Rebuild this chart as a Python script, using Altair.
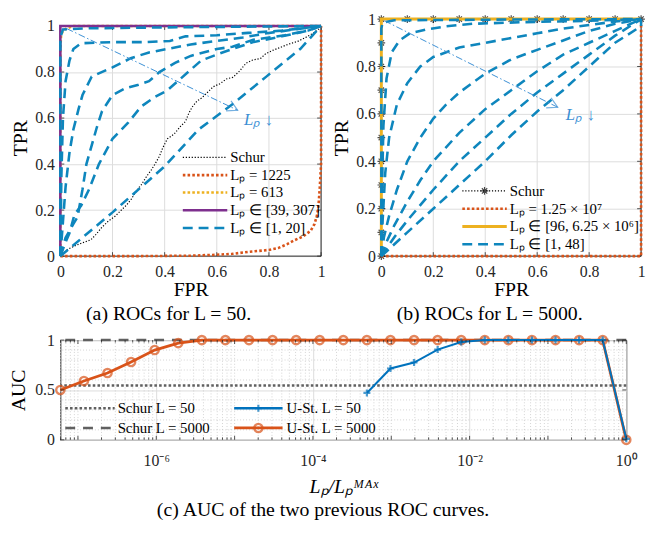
import altair as alt
import pandas as pd

FONT = "Liberation Serif"
INK = "#262626"
BLUE_ROC = "#0e86bd"
MBLUE = "#0072BD"
MORANGE = "#D95319"
MYELLOW = "#EDB120"
MPURPLE = "#7E2F8E"
ARROW = "#3b8fd4"
GRID = "#dcdcdc"
MINOR = "#c8c8c8"
SCHUR_GRAY = "#606060"

# ---------------- panel (a): L = 50 ----------------
a_schur_fpr = [0, 0.029, 0.054, 0.085, 0.117, 0.135, 0.160, 0.185, 0.211, 0.229, 0.254, 0.273, 0.292,
               0.311, 0.330, 0.348, 0.363, 0.380, 0.392, 0.404, 0.411, 0.436, 0.461, 0.480, 0.492,
               0.505, 0.524, 0.543, 0.561, 0.586, 0.612, 0.637, 0.662, 0.687, 0.712, 0.737, 0.768,
               0.787, 0.812, 0.837, 0.875, 0.912, 0.937, 0.969, 0.987, 1.0, 1.0]
a_schur_tpr = [0, 0.030, 0.044, 0.058, 0.071, 0.092, 0.126, 0.153, 0.174, 0.195, 0.222, 0.249, 0.284,
               0.311, 0.345, 0.373, 0.400, 0.434, 0.468, 0.496, 0.510, 0.530, 0.564, 0.585, 0.619,
               0.647, 0.674, 0.688, 0.708, 0.736, 0.749, 0.770, 0.777, 0.804, 0.838, 0.852, 0.859,
               0.879, 0.893, 0.904, 0.921, 0.934, 0.948, 0.968, 0.982, 0.996, 1.0]
a_1225_fpr = [0, 0.3, 0.5, 0.6, 0.66, 0.72, 0.8, 0.835, 0.87, 0.90, 0.93, 0.96, 0.975, 0.985, 0.99, 0.995, 1.0, 1.0]
a_1225_tpr = [0, 0.0, 0.002, 0.006, 0.01, 0.018, 0.027, 0.035, 0.052, 0.07, 0.085, 0.11, 0.14, 0.18, 0.22, 0.3, 0.4, 1.0]
a_613_fpr = [0, 0, 0.003, 0.01, 0.025, 0.05, 1.0]
a_613_tpr = [0, 0.9, 0.96, 0.98, 0.99, 1.0, 1.0]
a_mid_fpr = [0, 0, 1]
a_mid_tpr = [0, 1, 1]
a_low = [
    ([0, 0, 0.01, 0.1, 0.5, 1.0], [0, 0.95, 0.985, 0.99, 0.995, 1.0]),
    ([0, 0.004, 0.01, 0.02, 0.035, 0.05, 0.08, 0.2, 0.33, 0.42, 0.48, 0.6, 0.72, 0.85, 1.0],
     [0, 0.35, 0.6, 0.76, 0.85, 0.9, 0.925, 0.93, 0.93, 0.935, 0.955, 0.96, 0.97, 0.98, 1.0]),
    ([0, 0.01, 0.02, 0.035, 0.05, 0.07, 0.085, 0.12, 0.2, 0.27, 0.34, 0.41, 0.5, 0.6, 0.7, 0.8, 0.9, 1.0],
     [0, 0.15, 0.3, 0.45, 0.55, 0.64, 0.70, 0.78, 0.82, 0.86, 0.885, 0.9, 0.92, 0.935, 0.95, 0.97, 0.985, 1.0]),
    ([0, 0.02, 0.05, 0.066, 0.085, 0.1, 0.12, 0.14, 0.16, 0.2, 0.25, 0.3, 0.34, 0.38, 0.44, 0.5, 0.6, 0.66, 0.74, 0.86, 0.95, 1.0],
     [0, 0.08, 0.14, 0.17, 0.29, 0.4, 0.48, 0.56, 0.63, 0.7, 0.73, 0.745, 0.76, 0.8, 0.84, 0.87, 0.9, 0.91, 0.94, 0.96, 0.98, 1.0]),
    ([0, 0.02, 0.035, 0.054, 0.08, 0.11, 0.148, 0.2, 0.26, 0.31, 0.36, 0.41, 0.49, 0.54, 0.61, 0.66, 0.74, 0.85, 0.95, 1.0],
     [0, 0.06, 0.1, 0.18, 0.22, 0.29, 0.4, 0.51, 0.58, 0.65, 0.69, 0.72, 0.8, 0.85, 0.88, 0.9, 0.93, 0.955, 0.98, 1.0]),
    ([0, 0.2, 0.4, 0.53, 0.66, 0.79, 0.92, 1.0], [0, 0.19, 0.39, 0.55, 0.66, 0.78, 0.9, 1.0]),
]
a_arrow_fpr = [0.024, 0.68]
a_arrow_tpr = [0.989, 0.634]
a_note_fpr = [0.76]
a_note_tpr = [0.593]
a_legend = ["Schur", "Lₚ = 1225", "Lₚ = 613", "Lₚ ∈ [39, 307]", "Lₚ ∈ [1, 20]"]

# ---------------- panel (b): L = 5000 ----------------
b_schur_fpr = [0, 0, 0, 0, 0, 0, 0, 0, 0, 0, 0, 0.1, 0.2, 0.3, 0.4, 0.5, 0.6, 0.7, 0.8, 0.9, 1.0]
b_schur_tpr = [0, 0.1, 0.2, 0.3, 0.4, 0.5, 0.6, 0.7, 0.8, 0.9, 1, 1, 1, 1, 1, 1, 1, 1, 1, 1, 1]
b_max_fpr = [0, 1, 1]
b_max_tpr = [0, 0, 1]
b_mid_fpr = [0, 0, 1]
b_mid_tpr = [0, 1, 1]
b_low = [
    ([0, 0, 0.005, 0.05, 0.5, 1.0], [0, 0.96, 0.985, 0.995, 0.998, 1.0]),
    ([0, 0.003, 0.008, 0.02, 0.04, 0.07, 0.11, 0.17, 0.25, 0.35, 0.55, 0.8, 1.0],
     [0, 0.3, 0.55, 0.75, 0.86, 0.91, 0.94, 0.955, 0.97, 0.98, 0.987, 0.993, 1.0]),
    ([0, 0.005, 0.015, 0.03, 0.06, 0.1, 0.15, 0.2, 0.3, 0.4, 0.5, 0.6, 0.7, 0.8, 0.9, 1.0],
     [0, 0.15, 0.35, 0.5, 0.64, 0.73, 0.8, 0.84, 0.88, 0.9, 0.92, 0.94, 0.96, 0.975, 0.99, 1.0]),
    ([0, 0.01, 0.03, 0.06, 0.1, 0.15, 0.2, 0.25, 0.3, 0.4, 0.5, 0.6, 0.7, 0.8, 0.9, 1.0],
     [0, 0.08, 0.17, 0.28, 0.4, 0.5, 0.58, 0.64, 0.69, 0.77, 0.83, 0.87, 0.91, 0.95, 0.98, 1.0]),
    ([0, 0.02, 0.05, 0.1, 0.15, 0.2, 0.3, 0.4, 0.5, 0.6, 0.7, 0.8, 0.9, 1.0],
     [0, 0.06, 0.13, 0.23, 0.32, 0.4, 0.52, 0.62, 0.7, 0.78, 0.85, 0.9, 0.95, 1.0]),
    ([0, 0.05, 0.1, 0.2, 0.3, 0.4, 0.5, 0.6, 0.7, 0.8, 0.9, 1.0],
     [0, 0.08, 0.15, 0.28, 0.4, 0.5, 0.6, 0.69, 0.77, 0.85, 0.93, 1.0]),
    ([0, 0.1, 0.2, 0.3, 0.4, 0.5, 0.6, 0.7, 0.8, 0.9, 1.0, 1.0],
     [0, 0.1, 0.2, 0.3, 0.4, 0.51, 0.61, 0.7, 0.8, 0.9, 0.97, 1.0]),
]
b_arrow_fpr = [0.012, 0.679]
b_arrow_tpr = [0.993, 0.628]
b_note_fpr = [0.766]
b_note_tpr = [0.595]
b_legend = ["Schur", "Lₚ = 1.25 × 10⁷", "Lₚ ∈ [96, 6.25 × 10⁶]", "Lₚ ∈ [1, 48]"]

roc_ticks = [0, 0.2, 0.4, 0.6, 0.8, 1]

# ---------------- panel (c): AUC ----------------
exp_5000 = [-24, -23, -22, -21, -20, -19, -18, -17, -16, -15, -14, -13, -12, -11, -10, -9, -8, -7, -6, -5, -4, -3, -2, -1, 0]
auc_5000 = [0.50, 0.59, 0.67, 0.78, 0.90, 0.97, 1.0, 1.0, 1.0, 1.0, 1.0, 1.0, 1.0, 1.0, 1.0, 1.0, 1.0, 1.0, 1.0, 1.0, 1.0, 1.0, 1.0, 1.0, 0.0]
exp_50 = [-11, -10, -9, -8, -7, -6, -5, -4, -3, -2, -1, 0]
auc_50 = [0.47, 0.715, 0.775, 0.905, 0.98, 1.0, 1.0, 1.0, 1.0, 1.0, 1.0, 0.01]
schur_auc_50 = [0.545]
schur_auc_5000 = [1.0]
c_tick_exp = [-6, -4, -2, 0]
c_tick_text = ["10⁻⁶", "10⁻⁴", "10⁻²", "10⁰"]
c_decades = [-8, -7, -6, -5, -4, -3, -2, -1, 0]
c_mult = [1, 2, 3, 4, 5, 6, 7, 8, 9]
c_yticks = [0, 0.5, 1]
c_yminor = [0.1, 0.2, 0.3, 0.4, 0.6, 0.7, 0.8, 0.9]
c_legend_left = ["Schur L = 50", "Schur L = 5000"]
c_legend_right = ["U-St.  L = 50", "U-St.  L = 5000"]


# ---------------- helpers ----------------
def cdf(fpr, tpr, name="c"):
    return pd.DataFrame({"fpr": fpr, "tpr": tpr, "i": list(range(len(fpr))), "curve": name})


def roc_panel(W, H, ytop, layers_spec, arrow, note, legend_rows, caption):
    # value 1 of TPR sits `ytop` pixels below the top of the view
    xs = alt.Scale(domain=[0, 1], nice=False, zero=False)
    ys = alt.Scale(domain=[0, H / (H - ytop)], nice=False, zero=False)
    xax = alt.Axis(values=roc_ticks, format="~g", title="FPR", grid=False, ticks=False, domain=False,
                   labelFlush=False, labelPadding=8, titlePadding=0, labelFont=FONT, titleFont=FONT)
    yax = alt.Axis(values=roc_ticks, format="~g", title="TPR", grid=True, ticks=False, domain=False,
                   labelPadding=6, titlePadding=4, labelFont=FONT, titleFont=FONT)
    X = alt.X("fpr:Q", scale=xs, axis=xax)
    Y = alt.Y("tpr:Q", scale=ys, axis=yax)
    layers = []
    gdf = pd.DataFrame({"fpr": roc_ticks, "tpr": [0] * len(roc_ticks), "tpr2": [1] * len(roc_ticks)})
    layers.append(alt.Chart(gdf).mark_rule(color=GRID, strokeWidth=1)
                  .encode(x=X, y=Y, y2=alt.Y2("tpr2:Q")))
    bx = dict(color=INK, strokeWidth=1)
    one = pd.DataFrame({"t": [0]})
    layers.append(alt.Chart(one).mark_rule(**bx).encode(x=alt.value(0), x2=alt.value(W), y=alt.value(H)))
    layers.append(alt.Chart(one).mark_rule(**bx).encode(x=alt.value(0), x2=alt.value(W), y=alt.value(ytop)))
    layers.append(alt.Chart(one).mark_rule(**bx).encode(x=alt.value(0), y=alt.value(ytop), y2=alt.value(H)))
    layers.append(alt.Chart(one).mark_rule(**bx).encode(x=alt.value(W), y=alt.value(ytop), y2=alt.value(H)))
    tdf = pd.DataFrame({"fpr": roc_ticks, "tpr": roc_ticks})
    tk = dict(color=INK, strokeWidth=0.8)
    layers.append(alt.Chart(tdf).mark_rule(**tk).encode(x=X, y=alt.value(H), y2=alt.value(H - 4)))
    layers.append(alt.Chart(tdf).mark_rule(**tk).encode(x=X, y=alt.value(ytop), y2=alt.value(ytop + 4)))
    layers.append(alt.Chart(tdf).mark_rule(**tk).encode(y=Y, x=alt.value(0), x2=alt.value(4)))
    layers.append(alt.Chart(tdf).mark_rule(**tk).encode(y=Y, x=alt.value(W), x2=alt.value(W - 4)))
    for df, style in layers_spec:
        mk = dict(color=style["color"], strokeWidth=style["width"])
        if "dash" in style:
            mk["strokeDash"] = style["dash"]
        layers.append(alt.Chart(df).mark_line(**mk).encode(x=X, y=Y, order="i:Q", detail="curve:N"))
        if "marker" in style:
            layers.append(alt.Chart(df).mark_point(shape=style["marker"], filled=False, size=60,
                                                   color="black", strokeWidth=1.2).encode(x=X, y=Y))
    adf = cdf(arrow[0], arrow[1], "arrow")
    layers.append(alt.Chart(adf).mark_line(color=ARROW, strokeWidth=1, strokeDash=[7, 2.5, 1.5, 2.5])
                  .encode(x=X, y=Y, order="i:Q"))
    layers.append(alt.Chart(adf.iloc[[1]]).mark_point(shape="M-1,-0.55L0,0L-1,0.55", filled=False, size=420,
                                                      color=ARROW, strokeWidth=1.2, angle=26)
                  .encode(x=X, y=Y))
    layers.append(alt.Chart(cdf(note[0], note[1])).mark_text(text="Lₚ ↓", font=FONT, fontSize=17,
                                                              fontStyle="italic", color=ARROW)
                  .encode(x=X, y=Y))
    for (label, style, yb, x0, x1, xt) in legend_rows:
        ypx = H - yb
        mk = dict(color=style["color"], strokeWidth=style["width"])
        if "dash" in style:
            mk["strokeDash"] = style["dash"]
        ldf = pd.DataFrame({"t": [label]})
        layers.append(alt.Chart(ldf).mark_rule(**mk).encode(x=alt.value(x0), x2=alt.value(x1), y=alt.value(ypx)))
        if "marker" in style:
            layers.append(alt.Chart(ldf).mark_point(shape=style["marker"], filled=False, size=60, color="black",
                                                    strokeWidth=1.2)
                          .encode(x=alt.value((x0 + x1) / 2), y=alt.value(ypx)))
        layers.append(alt.Chart(ldf).mark_text(align="left", baseline="middle", font=FONT, fontSize=15,
                                               color="black")
                      .encode(x=alt.value(xt), y=alt.value(ypx), text="t:N"))
    return alt.layer(*layers).properties(
        width=W, height=H, view=alt.ViewBackground(strokeOpacity=0),
        title=alt.TitleParams(text=caption, orient="bottom", anchor="middle", frame="bounds", font=FONT,
                              fontSize=20, fontWeight="normal", color="black", offset=5))


ASTER = "M0,-1L0,1M-1,0L1,0M-0.7,-0.7L0.7,0.7M-0.7,0.7L0.7,-0.7"
st_schur = {"color": "black", "width": 1.2, "dash": [1.2, 1.8]}
st_orange_dot = {"color": MORANGE, "width": 2.6, "dash": [2.6, 2.2]}
st_yellow_dot = {"color": MYELLOW, "width": 2.6, "dash": [2.6, 2.2]}
st_purple = {"color": MPURPLE, "width": 2.6}
st_yellow = {"color": MYELLOW, "width": 3}
st_blue_dash = {"color": BLUE_ROC, "width": 2.6, "dash": [10, 6]}
st_schur_b = dict(st_schur, marker=ASTER)

H_TOP = 240
WA = 264
spec_a = [
    (cdf(a_schur_fpr, a_schur_tpr), st_schur),
    (cdf(a_1225_fpr, a_1225_tpr), st_orange_dot),
    (cdf(a_613_fpr, a_613_tpr), st_yellow_dot),
    (cdf(a_mid_fpr, a_mid_tpr), st_purple),
    (pd.concat([cdf(f, t, f"c{k}") for k, (f, t) in enumerate(a_low)]), st_blue_dash),
]
rows_a = [100, 82, 64.5, 46.5, 28.5]   # legend rows, pixels above the bottom axis
legend_a = [(lab, st, y, 124, 169, 172) for lab, st, y in
            zip(a_legend, [st_schur, st_orange_dot, st_yellow_dot, st_purple, st_blue_dash], rows_a)]
panel_a = roc_panel(WA, H_TOP, 7, spec_a, (a_arrow_fpr, a_arrow_tpr), (a_note_fpr, a_note_tpr), legend_a,
                    "(a) ROCs for L = 50.")

WB = 263
spec_b = [
    (cdf(b_schur_fpr, b_schur_tpr), st_schur_b),
    (cdf(b_max_fpr, b_max_tpr), st_orange_dot),
    (cdf(b_mid_fpr, b_mid_tpr), st_yellow),
    (pd.concat([cdf(f, t, f"c{k}") for k, (f, t) in enumerate(b_low)]), st_blue_dash),
]
rows_b = [66, 48, 30, 12]
legend_b = [(lab, st, y, 82, 127, 130) for lab, st, y in
            zip(b_legend, [st_schur_b, st_orange_dot, st_yellow, st_blue_dash], rows_b)]
panel_b = roc_panel(WB, H_TOP, 0, spec_b, (b_arrow_fpr, b_arrow_tpr), (b_note_fpr, b_note_tpr), legend_b,
                    "(b) ROCs for L = 5000.")

# ---------------- panel (c) ----------------
WC, HC = 573, 101
label_expr = "''"
for e, t in zip(reversed(c_tick_exp), reversed(c_tick_text)):
    label_expr = f"round(log(datum.value)/LN10) == {e} ? '{t}' : ({label_expr})"
c_major = [10.0 ** e for e in c_tick_exp]
xmin = 2.0 ** exp_5000[0]
minor_vals = [m * 10.0 ** d for d in c_decades for m in c_mult]
minor_vals = [v for v in minor_vals if xmin <= v <= 1.0]
minor_grid = [v for v in minor_vals if all(abs(v - M) > 1e-12 * M for M in c_major)]
decade_vals = [10.0 ** d for d in c_decades if 10.0 ** d >= xmin]

cx = alt.X("r:Q", scale=alt.Scale(type="log", domain=[xmin, 1.0], nice=False),
           axis=alt.Axis(values=c_major, labelExpr=label_expr, title="Lₚ/Lₚᴹᴬˣ", titleFontStyle="italic",
                         grid=True, ticks=False, domain=False, labelFlush=False, labelPadding=13,
                         titlePadding=8, labelFont=FONT, titleFont=FONT))
cy = alt.Y("auc:Q", scale=alt.Scale(domain=[0, 1], nice=False, zero=False),
           axis=alt.Axis(values=c_yticks, format="~g", title="AUC", grid=True, ticks=False, domain=False,
                         labelPadding=6, titlePadding=6, labelFont=FONT, titleFont=FONT))

df5000 = pd.DataFrame({"r": [2.0 ** e for e in exp_5000], "auc": auc_5000})
df50 = pd.DataFrame({"r": [2.0 ** e for e in exp_50], "auc": auc_50})
PLUS = "M-1,0L1,0M0,-1L0,1"

c_layers = [
    alt.Chart(pd.DataFrame({"r": minor_grid})).mark_rule(color=MINOR, strokeWidth=0.8, strokeDash=[1, 2])
    .encode(x=cx),
    alt.Chart(pd.DataFrame({"auc": c_yminor})).mark_rule(color=MINOR, strokeWidth=0.8, strokeDash=[1, 2])
    .encode(y=cy),
    alt.Chart(pd.DataFrame({"auc": schur_auc_50})).mark_rule(color=SCHUR_GRAY, strokeWidth=2.6,
                                                             strokeDash=[2.6, 2.2]).encode(y=cy),
    alt.Chart(pd.DataFrame({"auc": schur_auc_5000})).mark_rule(color=SCHUR_GRAY, strokeWidth=2.6,
                                                               strokeDash=[10, 8]).encode(y=cy),
    alt.Chart(df5000).mark_line(color=MORANGE, strokeWidth=2.8).encode(x=cx, y=cy),
    alt.Chart(df5000).mark_point(shape="circle", filled=False, size=70, color=MORANGE, strokeWidth=2.4)
    .encode(x=cx, y=cy),
    alt.Chart(df50).mark_line(color=MBLUE, strokeWidth=2).encode(x=cx, y=cy),
    alt.Chart(df50).mark_point(shape=PLUS, filled=False, size=50, color=MBLUE, strokeWidth=2.2)
    .encode(x=cx, y=cy),
]
tk = dict(color=INK, strokeWidth=0.8)
dec_df = pd.DataFrame({"r": decade_vals})
min_df = pd.DataFrame({"r": [v for v in minor_vals if v not in decade_vals]})
c_layers += [
    alt.Chart(dec_df).mark_rule(**tk).encode(x=cx, y=alt.value(HC), y2=alt.value(HC - 4)),
    alt.Chart(dec_df).mark_rule(**tk).encode(x=cx, y=alt.value(0), y2=alt.value(4)),
    alt.Chart(min_df).mark_rule(**tk).encode(x=cx, y=alt.value(HC), y2=alt.value(HC - 2.5)),
    alt.Chart(min_df).mark_rule(**tk).encode(x=cx, y=alt.value(0), y2=alt.value(2.5)),
    alt.Chart(pd.DataFrame({"auc": c_yticks})).mark_rule(**tk).encode(y=cy, x=alt.value(0), x2=alt.value(4)),
    alt.Chart(pd.DataFrame({"auc": c_yticks})).mark_rule(**tk).encode(y=cy, x=alt.value(WC), x2=alt.value(WC - 4)),
]
c_leg_styles = [
    (c_legend_left[0], dict(color=SCHUR_GRAY, strokeWidth=2.6, strokeDash=[2.6, 2.2]), None, 5, 55, 58, 32),
    (c_legend_left[1], dict(color=SCHUR_GRAY, strokeWidth=2.6, strokeDash=[10, 8]), None, 5, 55, 58, 12),
    (c_legend_right[0], dict(color=MBLUE, strokeWidth=2.6), ("plus", MBLUE), 176, 225, 229, 32),
    (c_legend_right[1], dict(color=MORANGE, strokeWidth=2.8), ("circle", MORANGE), 176, 225, 229, 12),
]
for lab, mk, marker, x0, x1, xt, yb in c_leg_styles:
    ypx = HC - yb
    ldf = pd.DataFrame({"t": [lab]})
    c_layers.append(alt.Chart(ldf).mark_rule(**mk).encode(x=alt.value(x0), x2=alt.value(x1), y=alt.value(ypx)))
    if marker is not None:
        if marker[0] == "plus":
            pm = alt.Chart(ldf).mark_point(shape=PLUS, filled=False, size=50, color=marker[1], strokeWidth=2.2)
        else:
            pm = alt.Chart(ldf).mark_point(shape="circle", filled=False, size=70, color=marker[1], strokeWidth=2.4)
        c_layers.append(pm.encode(x=alt.value((x0 + x1) / 2), y=alt.value(ypx)))
    c_layers.append(alt.Chart(ldf).mark_text(align="left", baseline="middle", font=FONT, fontSize=15, color="black")
                    .encode(x=alt.value(xt), y=alt.value(ypx), text="t:N"))

panel_c = alt.layer(*c_layers).properties(
    width=WC, height=HC,
    title=alt.TitleParams(text="(c) AUC of the two previous ROC curves.", orient="bottom", anchor="middle",
                          frame="bounds", font=FONT, fontSize=20, fontWeight="normal", color="black", offset=4))

top = alt.hconcat(panel_a, panel_b, spacing=5)
chart = alt.concat(top, panel_c, columns=1, align="none", spacing=6).properties(padding=0)
chart = chart.configure(font=FONT).configure_view(stroke=INK, strokeWidth=1).configure_axis(
    labelFont=FONT, titleFont=FONT, labelFontSize=16, titleFontSize=20, titleFontWeight="normal",
    labelColor=INK, titleColor="black", gridColor=GRID, gridWidth=1)

chart.save("out.html", embed_options={"renderer": "svg", "actions": False})
